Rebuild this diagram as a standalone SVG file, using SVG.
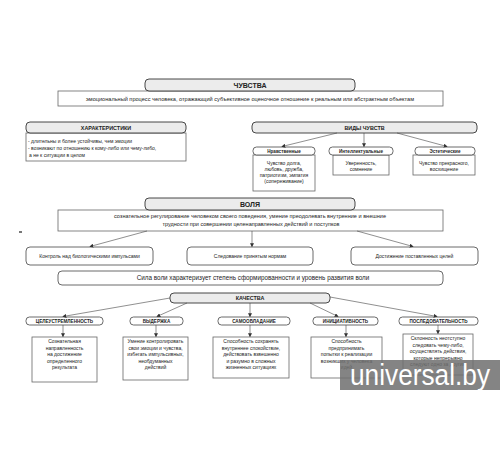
<svg xmlns="http://www.w3.org/2000/svg" width="500" height="450" viewBox="0 0 500 450">
<style>
text{font-family:"Liberation Sans","Open Sans",sans-serif;fill:#222;text-anchor:middle}
.hd{fill:#ececec;stroke:#333;stroke-width:0.9}
.bx{fill:#fff;stroke:#666;stroke-width:0.8}
.rb{fill:#fff;stroke:#444;stroke-width:0.8}
.t1{font-size:7px;font-weight:bold}
.t2{font-size:5.4px;font-weight:bold}
.t3{font-size:4.6px;font-weight:bold}
.ds{font-size:5.2px}
.sm{font-size:5px}
.lt{text-anchor:start}
.cn line{stroke:#444;stroke-width:0.6;marker-end:url(#ah)}
</style>
<defs>
<marker id="ah" viewBox="0 0 6 6" refX="5" refY="3" markerWidth="4" markerHeight="4" orient="auto" markerUnits="userSpaceOnUse">
<path d="M0,0 L6,3 L0,6 z" fill="#333"/>
</marker>
</defs>
<rect width="500" height="450" fill="#fff"/>

<g id="chuvstva">
<rect class="bx" x="58" y="91" width="385" height="15"/>
<rect class="hd" x="145" y="79" width="210" height="12" rx="4"/>
<text class="t1" x="250" y="88">ЧУВСТВА</text>
<text class="ds" x="250" y="100.5" textLength="328" lengthAdjust="spacingAndGlyphs">эмоциональный процесс человека, отражающий субъективное оценочное отношение к реальным или абстрактным объектам</text>
</g>

<g id="harakteristiki">
<rect class="bx" x="26" y="133" width="160" height="28"/>
<rect class="hd" x="26" y="122" width="160" height="11" rx="4"/>
<text class="t2" x="106" y="129.8">ХАРАКТЕРИСТИКИ</text>
<text class="sm lt" x="28" y="143">- длительны и более устойчивы, чем эмоции</text>
<text class="sm lt" x="28" y="150">- возникают по отношению к кому-либо или чему-либо,</text>
<text class="sm lt" x="29" y="157">а не к ситуации в целом</text>
</g>

<g id="vidy">
<rect class="hd" x="252" y="122" width="225" height="11" rx="4"/>
<text class="t2" x="364.5" y="129.8">ВИДЫ ЧУВСТВ</text>
</g>

<g id="nravstvennye">
<rect class="bx" x="253" y="155" width="62" height="36"/>
<rect class="rb" x="253" y="147" width="62" height="8" rx="3.5"/>
<text class="t3" x="284" y="152.8">Нравственные</text>
<text class="sm" x="284" y="164.5">Чувство долга,</text>
<text class="sm" x="284" y="170.5">любовь, дружба,</text>
<text class="sm" x="284" y="176.5">патриотизм, эмпатия</text>
<text class="sm" x="284" y="182.5">(сопереживание)</text>
</g>

<g id="intellekt">
<rect class="bx" x="333" y="155" width="56" height="20"/>
<rect class="rb" x="329" y="147" width="64" height="8" rx="3.5"/>
<text class="t3" x="361" y="152.8">Интеллектуальные</text>
<text class="sm" x="361" y="164.5">Уверенность,</text>
<text class="sm" x="361" y="170.5">сомнение</text>
</g>

<g id="estetich">
<rect class="bx" x="413" y="155" width="62" height="20"/>
<rect class="rb" x="415" y="147" width="60" height="8" rx="3.5"/>
<text class="t3" x="445" y="152.8">Эстетические</text>
<text class="sm" x="444" y="164.5">Чувство прекрасного,</text>
<text class="sm" x="444" y="170.5">восхищение</text>
</g>

<rect x="19" y="231" width="3" height="2" fill="#777"/>

<g id="volya">
<rect class="bx" x="58" y="210" width="385" height="21"/>
<rect class="hd" x="145" y="198" width="210" height="12" rx="4"/>
<text class="t1" x="250" y="206.8">ВОЛЯ</text>
<text class="ds" x="250" y="218" textLength="272" lengthAdjust="spacingAndGlyphs">сознательное регулирование человеком своего поведения, умение преодолевать внутренние и внешние</text>
<text class="ds" x="251" y="225.5" textLength="177" lengthAdjust="spacingAndGlyphs">трудности при совершении целенаправленных действий и поступков</text>
</g>

<g id="kontrol">
<rect class="rb" x="26" y="247" width="127" height="18" rx="4"/>
<text class="sm" x="89.5" y="257.5">Контроль над биологическими импульсами</text>
</g>
<g id="sledovanie">
<rect class="rb" x="187" y="247" width="126" height="18" rx="4"/>
<text class="sm" x="250" y="257.5">Следование принятым нормам</text>
</g>
<g id="dostizhenie">
<rect class="rb" x="351" y="247" width="127" height="18" rx="4"/>
<text class="sm" x="414.5" y="257.5">Достижение поставленных целей</text>
</g>

<g id="sila">
<rect class="rb" x="58" y="271" width="385" height="14" rx="4"/>
<text x="253" y="280" style="font-size:6.3px">Сила воли характеризует степень сформированности и уровень развития воли</text>
</g>

<g id="kachestva">
<rect class="hd" x="170" y="293" width="160" height="10" rx="4"/>
<text class="t2" x="250" y="300">КАЧЕСТВА</text>
</g>

<g id="celeustr">
<rect class="rb" x="26" y="317" width="77" height="8" rx="3.5"/>
<text class="t3" x="64.5" y="322.8">ЦЕЛЕУСТРЕМЛЕННОСТЬ</text>
<rect class="bx" x="32" y="337" width="65" height="45"/>
<text class="sm" x="64.5" y="343">Сознательная</text>
<text class="sm" x="64.5" y="349.5">направленность</text>
<text class="sm" x="64.5" y="356">на достижение</text>
<text class="sm" x="64.5" y="362.5">определенного</text>
<text class="sm" x="64.5" y="369">результата</text>
</g>

<g id="vyderzhka">
<rect class="rb" x="130" y="317" width="53" height="8" rx="3.5"/>
<text class="t3" x="156.5" y="322.8">ВЫДЕРЖКА</text>
<rect class="bx" x="123" y="337" width="65" height="43"/>
<text class="sm" x="155.5" y="343">Умение контролировать</text>
<text class="sm" x="155.5" y="349.5">свои эмоции и чувства,</text>
<text class="sm" x="155.5" y="356">избегать импульсивных,</text>
<text class="sm" x="155.5" y="362.5">необдуманных</text>
<text class="sm" x="155.5" y="369">действий</text>
</g>

<g id="samoobl">
<rect class="rb" x="218" y="317" width="72" height="8" rx="3.5"/>
<text class="t3" x="254" y="322.8">САМООБЛАДАНИЕ</text>
<rect class="bx" x="213" y="337" width="76" height="41"/>
<text class="sm" x="251" y="343">Способность сохранять</text>
<text class="sm" x="251" y="349.5">внутреннее спокойствие,</text>
<text class="sm" x="251" y="356">действовать взвешенно</text>
<text class="sm" x="251" y="362.5">и разумно в сложных</text>
<text class="sm" x="251" y="369">жизненных ситуациях</text>
</g>

<g id="iniciat">
<rect class="rb" x="313" y="317" width="65" height="8" rx="3.5"/>
<text class="t3" x="345.5" y="322.8">ИНИЦИАТИВНОСТЬ</text>
<rect class="bx" x="311" y="337" width="71" height="41"/>
<text class="sm" x="346.5" y="343">Способность</text>
<text class="sm" x="346.5" y="349.5">предпринимать</text>
<text class="sm" x="346.5" y="356">попытки к реализации</text>
<text class="sm" x="346.5" y="362.5">возникших у человека</text>
<text class="sm" x="346.5" y="369">идей</text>
</g>

<g id="posledov">
<rect class="rb" x="399" y="317" width="79" height="8" rx="3.5"/>
<text class="t3" x="438.5" y="322.8">ПОСЛЕДОВАТЕЛЬНОСТЬ</text>
<rect class="bx" x="403" y="334" width="70" height="41"/>
<text class="sm" x="438" y="340">Склонность неотступно</text>
<text class="sm" x="438" y="346.5">следовать чему-либо,</text>
<text class="sm" x="438" y="353">осуществлять действия,</text>
<text class="sm" x="438" y="359.5">которые непрерывно</text>
<text class="sm" x="438" y="366">следуют одно за другим</text>
</g>

<g id="connectors" class="cn">
<line x1="337" y1="133" x2="282" y2="146.5"/>
<line x1="364" y1="133" x2="364" y2="146.5"/>
<line x1="397" y1="133" x2="447" y2="146.5"/>
<line x1="147" y1="231" x2="90" y2="246.5"/>
<line x1="252" y1="231" x2="252" y2="246.5"/>
<line x1="357" y1="231" x2="413" y2="246.5"/>
<line x1="170" y1="298" x2="63" y2="316.5"/>
<line x1="187" y1="303" x2="157" y2="316.5"/>
<line x1="250" y1="303" x2="250" y2="316.5"/>
<line x1="310" y1="303" x2="338" y2="316.5"/>
<line x1="330" y1="297" x2="437" y2="316.5"/>
<line x1="63" y1="325" x2="63" y2="336.5"/>
<line x1="156" y1="325" x2="156" y2="336.5"/>
<line x1="250" y1="325" x2="250" y2="336.5"/>
<line x1="346" y1="325" x2="346" y2="336.5"/>
<line x1="438" y1="325" x2="438" y2="333.5"/>
</g>

<g id="watermark">
<rect x="340" y="360" width="160" height="30" fill="#6e6e6e" fill-opacity="0.85"/>
<text x="350" y="385" style="font-size:29px;fill:#fff;text-anchor:start;font-family:'Liberation Sans',sans-serif" textLength="140" lengthAdjust="spacingAndGlyphs">universal.by</text>
</g>
</svg>
